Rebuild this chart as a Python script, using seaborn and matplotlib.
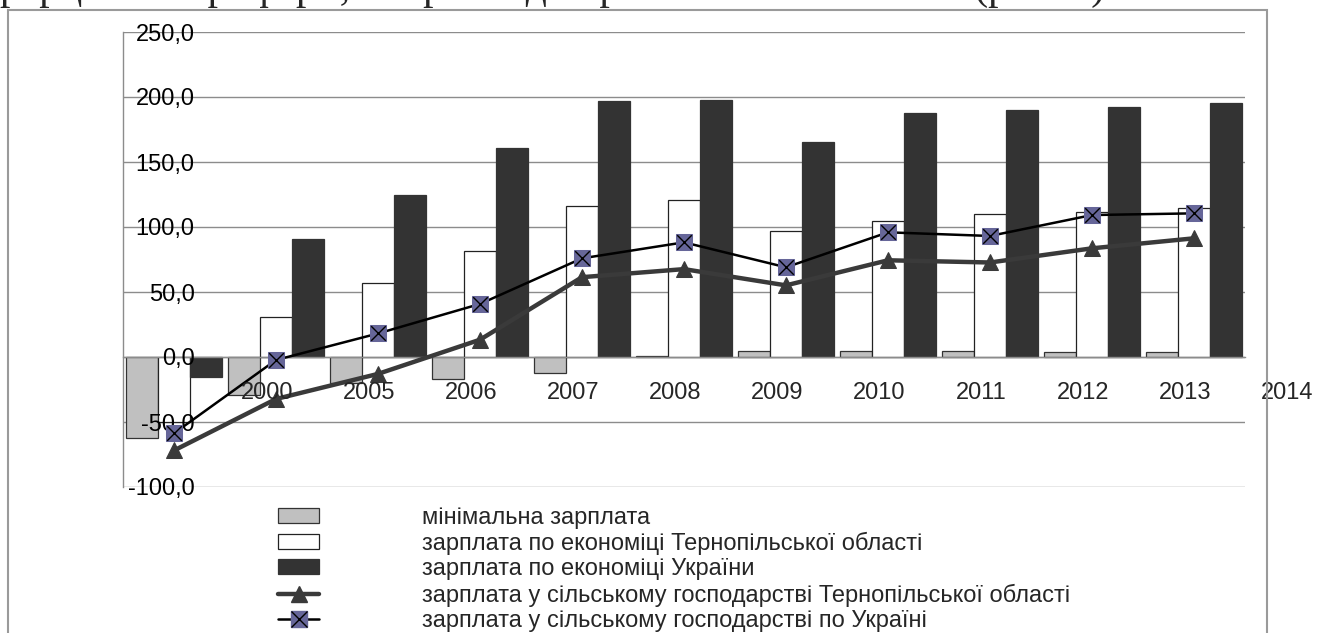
import numpy as np
import pandas as pd
import matplotlib
matplotlib.use("Agg")
import matplotlib.pyplot as plt
import seaborn as sns
from matplotlib.lines import Line2D
from matplotlib.patches import Patch, Rectangle
from matplotlib.legend_handler import HandlerTuple

# ---------------- data ----------------
years = ["2000", "2005", "2006", "2007", "2008", "2009", "2010", "2011", "2012", "2013", "2014"]
min_wage = [-62.3, -29.2, -20.3, -17.2, -12.0, 1.0, 4.6, 4.6, 4.6, 3.6, 3.6]
tern_econ = [-50.3, 30.8, 56.9, 81.8, 115.9, 120.8, 96.7, 104.9, 109.7, 111.8, 114.9]
ukr_econ = [-15.4, 90.8, 124.6, 160.8, 196.9, 197.7, 165.4, 187.7, 190.0, 192.3, 195.4]
tern_agri = [-71.9, -32.3, -13.0, 13.3, 61.4, 67.6, 55.1, 74.4, 72.7, 83.6, 91.3]
ukr_agri = [-58.7, -2.3, 18.1, 40.8, 75.9, 88.2, 69.0, 95.9, 93.1, 109.2, 110.5]

bar_names = ["мінімальна зарплата",
             "зарплата по економіці Тернопільської області",
             "зарплата по економіці України"]
line_names = ["зарплата у сільському господарстві Тернопільської області",
              "зарплата у сільському господарстві по Україні"]
yticks = [-100, -50, 0, 50, 100, 150, 200, 250]

# ---------------- style ----------------
sns.set_style("white")
plt.rcParams["font.family"] = ["Liberation Sans", "DejaVu Sans"]

W, H, DPI = 1328, 633, 100
fig = plt.figure(figsize=(W / DPI, H / DPI), dpi=DPI)
ax = fig.add_axes([123 / W, 1 - 487 / H, 1122 / W, 455 / H])

GRID = "#8c8c8c"
for v in yticks:
    ax.axhline(v, color=GRID, linewidth=1.0, zorder=0.5)

df = pd.DataFrame({
    "year": np.tile(years, 3),
    "value": min_wage + tern_econ + ukr_econ,
    "series": np.repeat(bar_names, len(years)),
})

bar_colors = ["#c0c0c0", "#ffffff", "#333333"]
bar_edges = ["#333333", "#222222", "#333333"]
sns.barplot(data=df, x="year", y="value", hue="series", order=years,
            hue_order=bar_names, palette=bar_colors, width=0.95, gap=0,
            legend=False, ax=ax, zorder=2, linewidth=0.8)
for cont, ec in zip(ax.containers, bar_edges):
    for b in cont:
        b.set_edgecolor(ec)
        b.set_linewidth(0.9)

xpos = np.arange(len(years))
line_c1 = "#3a3a3a"
sns.lineplot(x=xpos, y=tern_agri, ax=ax, color=line_c1, linewidth=3.2,
             marker="^", markersize=12, markeredgecolor=line_c1,
             markerfacecolor=line_c1, zorder=4)
sns.lineplot(x=xpos, y=ukr_agri, ax=ax, color="black", linewidth=1.8,
             marker="s", markersize=12, markerfacecolor="#666699",
             markeredgecolor="#666699", zorder=5)
sns.scatterplot(x=xpos, y=ukr_agri, ax=ax, marker="x", s=110, color="black",
                linewidth=1.0, zorder=6)

# ---------------- axes ----------------
ax.set_axisbelow(False)
ax.grid(False)
ax.set_xlim(-0.5, len(years) - 0.5)
ax.set_ylim(-100, 250)
ax.set_xlabel("")
ax.set_ylabel("")
ax.set_yticks(yticks)
ax.set_yticklabels([f"{v:.1f}".replace(".", ",") for v in yticks])
for s in ["top", "right"]:
    ax.spines[s].set_visible(False)
ax.spines["left"].set_color(GRID)
ax.spines["left"].set_linewidth(1.0)
ax.spines["left"].set_zorder(0.6)
ax.spines["bottom"].set_position(("data", 0))
ax.spines["bottom"].set_color(GRID)
ax.spines["bottom"].set_linewidth(1.0)
ax.tick_params(axis="y", length=6, width=1, color=GRID, pad=-57.6,
               labelsize=17, labelcolor="black", direction="out")
ax.set_xticks(np.arange(-0.5, len(years), 1.0))
ax.set_xticklabels([])
ax.tick_params(axis="x", length=6, width=1, color=GRID, direction="out")
for lab in ax.get_yticklabels():
    lab.set_horizontalalignment("right")

# category labels (shifted, as in the original rendering)
for i, yr in enumerate(years):
    ax.text(i + 0.5 + 42 / 102, -27.7, yr, ha="center", va="center",
            fontsize=17, clip_on=False, zorder=7)

# ---------------- legend ----------------
handles = [
    Patch(facecolor=bar_colors[0], edgecolor="#333333", linewidth=0.9),
    Patch(facecolor=bar_colors[1], edgecolor="#222222", linewidth=0.9),
    Patch(facecolor=bar_colors[2], edgecolor=bar_colors[2], linewidth=0.9),
    Line2D([], [], color=line_c1, linewidth=3.2, marker="^", markersize=12,
           markerfacecolor=line_c1, markeredgecolor=line_c1),
    (Line2D([], [], color="black", linewidth=1.8, marker="s", markersize=12,
            markerfacecolor="#666699", markeredgecolor="#666699"),
     Line2D([], [], linestyle="none", marker="x", markersize=11,
            color="black", markeredgewidth=1.0)),
]
fig.legend(handles, bar_names + line_names, loc="upper left",
           bbox_to_anchor=(278 / W, 1 - 507 / H), frameon=False,
           fontsize=17, handlelength=1.74, handleheight=0.6,
           handletextpad=4.36, labelspacing=0.13, borderpad=0,
           borderaxespad=0, handler_map={tuple: HandlerTuple(ndivide=1)})

# ---------------- outer frame & cut-off document text ----------------
fig.add_artist(Rectangle((8 / W, -0.05), (1267 - 8) / W, 1.05 - 10 / H,
                         transform=fig.transFigure, fill=False,
                         edgecolor="#9a9a9a", linewidth=1.5))
fig.text(0 / W, 1 + 1.0 / H,
         "рерції на периферії, наприклад Тернопільської області (рис. 1).",
         fontsize=30, family=["Liberation Serif", "DejaVu Serif"],
         va="baseline", ha="left")

fig.savefig("out.png", dpi=DPI)
